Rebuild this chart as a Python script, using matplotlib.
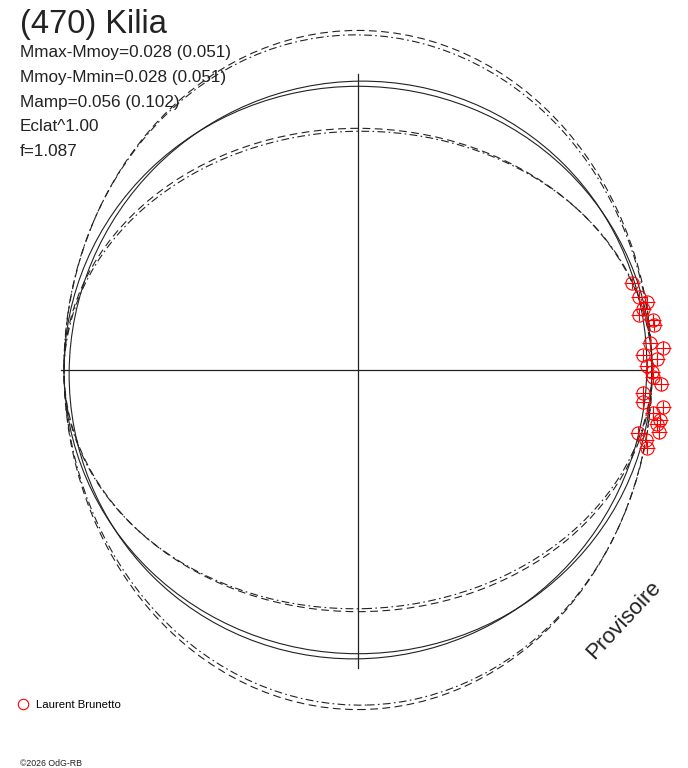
import matplotlib
matplotlib.use("Agg")
import matplotlib.pyplot as plt
from matplotlib.patches import Ellipse
from matplotlib.lines import Line2D

plt.rcParams['font.family'] = ['Liberation Sans', 'DejaVu Sans']

# model curves (semi-axes in units of the horizontal radius, tilt in degrees)
curve_semi_x = [1.00, 1.00, 1.00, 0.99, 1.00, 1.00]
curve_semi_y = [1.155, 1.140, 0.965, 0.975, 0.822, 0.812]
curve_angle = [0, 1.5, 0, 45, 0, 1.5]
curve_style = ['dashed', 'dashdot', 'solid', 'solid', 'dashed', 'dashdot']

# observations (x, y in the same units)
obs_x = [0.932, 0.956, 0.983, 0.969, 0.956, 1.003, 1.007, 0.993, 1.037,
         0.969, 1.017, 0.983, 1.000, 1.003, 1.031, 0.969, 0.969, 1.037,
         1.003, 1.027, 1.017, 1.024, 0.952, 0.980, 0.983]
obs_y = [0.296, 0.248, 0.231, 0.207, 0.187, 0.170, 0.153, 0.092, 0.075,
         0.051, 0.037, 0.014, -0.007, -0.024, -0.048, -0.078, -0.109, -0.126,
         -0.146, -0.170, -0.184, -0.211, -0.214, -0.238, -0.265]

title = "(470) Kilia"
info_lines = ["Mmax-Mmoy=0.028 (0.051)",
              "Mmoy-Mmin=0.028 (0.051)",
              "Mamp=0.056 (0.102)",
              "Eclat^1.00",
              "f=1.087"]
observer = "Laurent Brunetto"

fig = plt.figure(figsize=(6.88, 7.68), dpi=100)
ax = fig.add_axes([0, 0, 1, 1])
ax.set_xlim(-358 / 294, 330 / 294)
ax.set_ylim(-398 / 294, 370 / 294)
ax.axis('off')

# axes cross
ax.plot([-1.01, 0.98], [0, 0], color='#222222', lw=0.9)
ax.plot([0, 0], [1.007, -1.014], color='#222222', lw=0.9)

for sx, sy, ang, ls in zip(curve_semi_x, curve_semi_y, curve_angle, curve_style):
    if ls == 'dashed':
        ls = (0, (7, 4))
    elif ls == 'dashdot':
        ls = (0, (7, 3, 1.5, 3))
    e = Ellipse((0, 0), 2 * sx, 2 * sy, angle=ang, fill=False,
                edgecolor='#222222', lw=0.8, linestyle=ls)
    ax.add_patch(e)

ax.errorbar(obs_x, obs_y, xerr=0.028, yerr=0.022, fmt='o', ms=9.5,
            mfc='none', mec='red', mew=0.8, ecolor='red', elinewidth=0.8,
            capsize=0, zorder=5)

fig.text(20 / 688, 1 - 33 / 768, title, fontsize=23.5, color='#222222')
for i, line in enumerate(info_lines):
    fig.text(20 / 688, 1 - (57 + 24.8 * i) / 768, line, fontsize=12.3,
             color='#222222')

fig.text(624 / 688, 1 - 620 / 768, "Provisoire", fontsize=16, rotation=47,
         ha='center', va='center', rotation_mode='anchor', color='#222222')

fig.text(20 / 688, 1 - 763 / 768, "©2026 OdG-RB", fontsize=6.3,
         va='center', color='#222222')

handle = Line2D([], [], marker='o', ls='none', mfc='none', mec='red',
                ms=7.5, mew=0.8)
fig.legend([handle], [observer], loc='center left', frameon=False,
           bbox_to_anchor=(12 / 688, 1 - 705 / 768), fontsize=8.2,
           handletextpad=0.6, borderpad=0, handlelength=1.0)

fig.savefig("out.png", dpi=100)
